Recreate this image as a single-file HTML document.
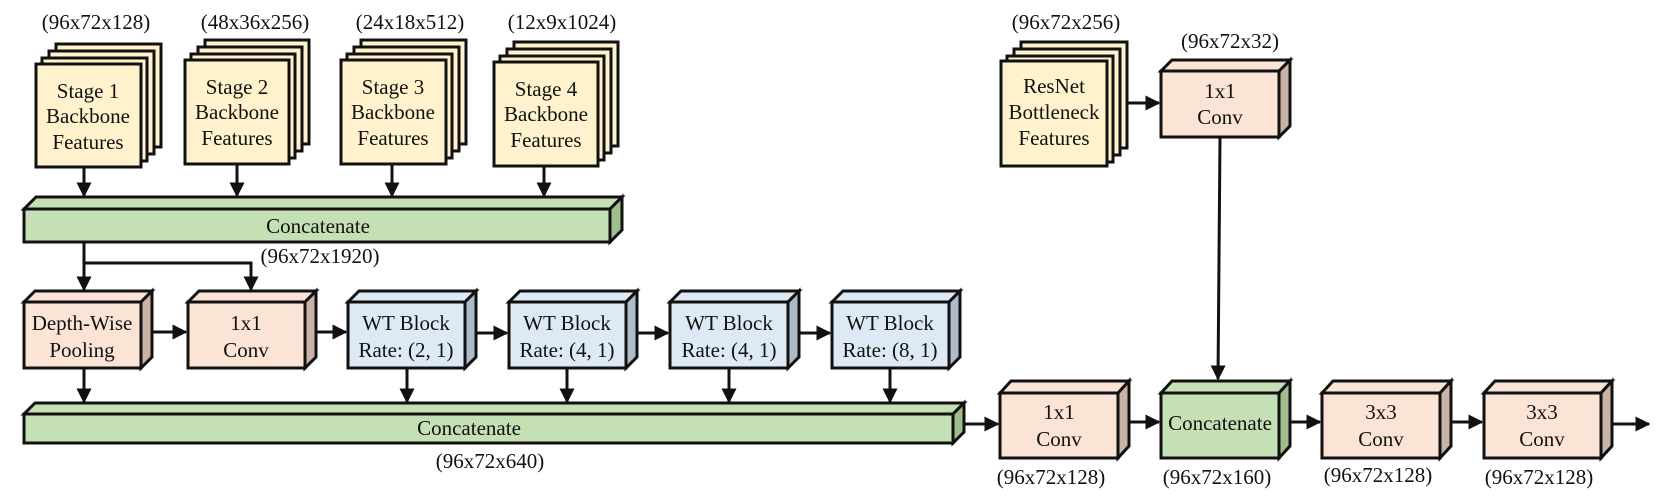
<!DOCTYPE html>
<html><head><meta charset="utf-8"><style>
html,body{margin:0;padding:0;background:#fff;}
svg{display:block;}
svg text{font-family:"Liberation Serif","Times New Roman","DejaVu Serif",serif;font-size:21px;fill:#111;}
.b{stroke:#111;stroke-width:3;stroke-linejoin:miter;}
.l{stroke:#111;stroke-width:3;fill:none;}
</style></head><body>
<svg width="1661" height="501" viewBox="0 0 1661 501" xmlns="http://www.w3.org/2000/svg" font-family="Liberation Serif, serif">
<defs>
<marker id="a" markerWidth="5" markerHeight="5" refX="4.5" refY="2.5" orient="auto" markerUnits="strokeWidth"><path d="M0,0 L5,2.5 L0,5 z" fill="#111"/></marker>
</defs>

<g text-anchor="middle">
<text x="96" y="29">(96x72x128)</text>
<text x="255" y="29">(48x36x256)</text>
<text x="410" y="29">(24x18x512)</text>
<text x="562" y="29">(12x9x1024)</text>
<text x="1066" y="29">(96x72x256)</text>
<text x="1230" y="48">(96x72x32)</text>
</g>

<g fill="#fff2cc" class="b">
<rect x="56" y="44" width="105" height="103"/><rect x="49" y="51" width="105" height="103"/><rect x="42" y="58" width="105" height="103"/><rect x="36" y="64" width="105" height="103"/>
<rect x="205" y="40" width="104" height="104"/><rect x="198" y="47" width="104" height="104"/><rect x="191" y="54" width="104" height="104"/><rect x="185" y="60" width="104" height="104"/>
<rect x="361" y="40" width="105" height="104"/><rect x="354" y="47" width="105" height="104"/><rect x="347" y="54" width="105" height="104"/><rect x="341" y="60" width="105" height="104"/>
<rect x="514" y="42" width="104" height="104"/><rect x="507" y="49" width="104" height="104"/><rect x="500" y="56" width="104" height="104"/><rect x="494" y="62" width="104" height="104"/>
<rect x="1021" y="42" width="106" height="106"/><rect x="1014" y="49" width="106" height="106"/><rect x="1007" y="56" width="106" height="106"/><rect x="1001" y="61" width="106" height="105"/>
</g>
<g text-anchor="middle">
<text x="88" y="98">Stage 1</text><text x="88" y="123">Backbone</text><text x="88" y="149">Features</text>
<text x="237" y="94">Stage 2</text><text x="237" y="119">Backbone</text><text x="237" y="145">Features</text>
<text x="393" y="94">Stage 3</text><text x="393" y="119">Backbone</text><text x="393" y="145">Features</text>
<text x="546" y="96">Stage 4</text><text x="546" y="121">Backbone</text><text x="546" y="147">Features</text>
<text x="1054" y="93">ResNet</text><text x="1054" y="119">Bottleneck</text><text x="1054" y="145">Features</text>
</g>

<g class="l" marker-end="url(#a)">
<line x1="84" y1="167" x2="84" y2="196"/>
<line x1="237" y1="164" x2="237" y2="196"/>
<line x1="392" y1="164" x2="392" y2="196"/>
<line x1="544" y1="166" x2="544" y2="196"/>
</g>

<g class="b">
<polygon points="24,209 36,197 622,197 610,209" fill="#c5e0b4"/>
<polygon points="610,209 622,197 622,230 610,242" fill="#a0bd8e"/>
<rect x="24" y="209" width="586" height="33" fill="#c5e0b4"/>
</g>
<text x="318" y="233" text-anchor="middle">Concatenate</text>
<text x="320" y="263" text-anchor="middle">(96x72x1920)</text>

<line class="l" x1="84" y1="242" x2="84" y2="263"/>
<polyline class="l" points="84,263 251,263 251,290" marker-end="url(#a)"/>
<line class="l" x1="84" y1="263" x2="84" y2="290" marker-end="url(#a)"/>

<g class="b">
<polygon points="24,302 35,291 152,291 141,302" fill="#fbe3d6"/><polygon points="141,302 152,291 152,357 141,368" fill="#c9b2a6"/><rect x="24" y="302" width="117" height="66" fill="#fbe3d6"/>
<polygon points="188,302 199,291 316,291 305,302" fill="#fbe3d6"/><polygon points="305,302 316,291 316,357 305,368" fill="#c9b2a6"/><rect x="188" y="302" width="117" height="66" fill="#fbe3d6"/>
<polygon points="348,302 359,291 476,291 465,302" fill="#dde9f5"/><polygon points="465,302 476,291 476,357 465,368" fill="#aebbc9"/><rect x="348" y="302" width="117" height="66" fill="#dde9f5"/>
<polygon points="509,302 520,291 637,291 626,302" fill="#dde9f5"/><polygon points="626,302 637,291 637,357 626,368" fill="#aebbc9"/><rect x="509" y="302" width="117" height="66" fill="#dde9f5"/>
<polygon points="670,302 681,291 799,291 788,302" fill="#dde9f5"/><polygon points="788,302 799,291 799,357 788,368" fill="#aebbc9"/><rect x="670" y="302" width="118" height="66" fill="#dde9f5"/>
<polygon points="832,302 843,291 960,291 949,302" fill="#dde9f5"/><polygon points="949,302 960,291 960,357 949,368" fill="#aebbc9"/><rect x="832" y="302" width="117" height="66" fill="#dde9f5"/>
</g>
<g text-anchor="middle">
<text x="82" y="330">Depth-Wise</text><text x="82" y="357">Pooling</text>
<text x="246" y="330">1x1</text><text x="246" y="357">Conv</text>
<text x="406" y="330">WT Block</text><text x="406" y="357">Rate: (2, 1)</text>
<text x="567" y="330">WT Block</text><text x="567" y="357">Rate: (4, 1)</text>
<text x="729" y="330">WT Block</text><text x="729" y="357">Rate: (4, 1)</text>
<text x="890" y="330">WT Block</text><text x="890" y="357">Rate: (8, 1)</text>
</g>
<g class="l" marker-end="url(#a)">
<line x1="152" y1="332" x2="186" y2="332"/>
<line x1="316" y1="332" x2="346" y2="332"/>
<line x1="476" y1="333" x2="507" y2="333"/>
<line x1="637" y1="333" x2="668" y2="333"/>
<line x1="799" y1="333" x2="830" y2="333"/>
<line x1="84" y1="368" x2="84" y2="402"/>
<line x1="407" y1="368" x2="407" y2="402"/>
<line x1="567" y1="368" x2="567" y2="402"/>
<line x1="729" y1="368" x2="729" y2="402"/>
<line x1="890" y1="368" x2="890" y2="402"/>
</g>

<g class="b">
<polygon points="24,414 35,403 964,403 953,414" fill="#c5e0b4"/>
<polygon points="953,414 964,403 964,432 953,443" fill="#a0bd8e"/>
<rect x="24" y="414" width="929" height="29" fill="#c5e0b4"/>
</g>
<text x="469" y="435" text-anchor="middle">Concatenate</text>
<text x="490" y="468" text-anchor="middle">(96x72x640)</text>

<g class="b">
<polygon points="1161,71 1172,60 1290,60 1279,71" fill="#fbe3d6"/><polygon points="1279,71 1290,60 1290,126 1279,137" fill="#c9b2a6"/><rect x="1161" y="71" width="118" height="66" fill="#fbe3d6"/>
<polygon points="1000,393 1011,381 1129,381 1118,393" fill="#fbe3d6"/><polygon points="1118,393 1129,381 1129,446 1118,458" fill="#c9b2a6"/><rect x="1000" y="393" width="118" height="65" fill="#fbe3d6"/>
<polygon points="1161,393 1172,381 1290,381 1279,393" fill="#c5e0b4"/><polygon points="1279,393 1290,381 1290,446 1279,458" fill="#9fbd8d"/><rect x="1161" y="393" width="118" height="65" fill="#c5e0b4"/>
<polygon points="1322,393 1333,381 1451,381 1440,393" fill="#fbe3d6"/><polygon points="1440,393 1451,381 1451,446 1440,458" fill="#c9b2a6"/><rect x="1322" y="393" width="118" height="65" fill="#fbe3d6"/>
<polygon points="1484,393 1495,381 1612,381 1601,393" fill="#fbe3d6"/><polygon points="1601,393 1612,381 1612,446 1601,458" fill="#c9b2a6"/><rect x="1484" y="393" width="117" height="65" fill="#fbe3d6"/>
</g>
<g text-anchor="middle">
<text x="1220" y="98">1x1</text><text x="1220" y="124">Conv</text>
<text x="1059" y="419">1x1</text><text x="1059" y="446">Conv</text>
<text x="1220" y="430">Concatenate</text>
<text x="1381" y="419">3x3</text><text x="1381" y="446">Conv</text>
<text x="1542" y="419">3x3</text><text x="1542" y="446">Conv</text>
<text x="1051" y="484">(96x72x128)</text>
<text x="1217" y="484">(96x72x160)</text>
<text x="1378" y="482">(96x72x128)</text>
<text x="1539" y="484">(96x72x128)</text>
</g>
<g class="l" marker-end="url(#a)">
<line x1="1128" y1="103" x2="1159" y2="103"/>
<line x1="1220" y1="138" x2="1218" y2="379"/>
<line x1="964" y1="424" x2="998" y2="424"/>
<line x1="1129" y1="422" x2="1159" y2="422"/>
<line x1="1290" y1="422" x2="1320" y2="422"/>
<line x1="1451" y1="422" x2="1482" y2="422"/>
<line x1="1612" y1="424" x2="1649" y2="424"/>
</g>
</svg>
</body></html>
